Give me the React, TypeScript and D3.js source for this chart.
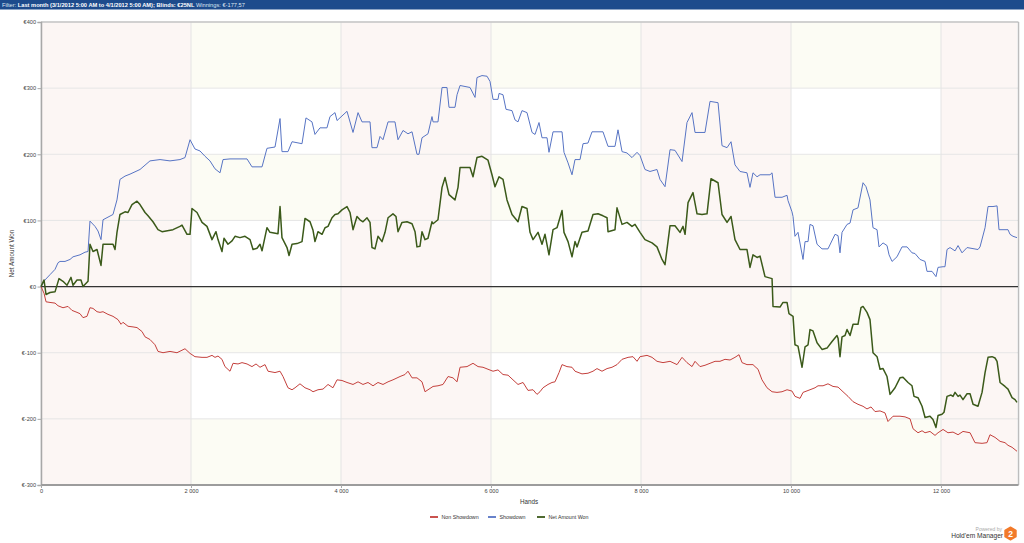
import React, { useRef, useEffect } from "react";
import * as d3 from "d3";

type Pt = [number, number];

// Cumulative winnings per hand (hands, euros)
const nonShowdown: Pt[] = [
  [0,0],[40,-10],[67,-23],[120,-24],[187,-25],[227,-29],[293,-32],[360,-30],[413,-36],[480,-39],[520,-41],[560,-47],[613,-45],[653,-32],[693,-33],[747,-38],[787,-39],[827,-38],[893,-42],[960,-45],[1027,-50],[1067,-57],[1093,-54],[1160,-60],[1227,-61],[1280,-62],[1347,-68],[1387,-76],[1453,-80],[1520,-88],[1560,-98],[1627,-100],[1720,-98],[1813,-100],[1920,-94],[1987,-101],[2053,-106],[2147,-107],[2213,-107],[2280,-104],[2320,-107],[2360,-105],[2413,-110],[2453,-121],[2520,-128],[2560,-116],[2627,-117],[2680,-115],[2747,-117],[2813,-121],[2867,-117],[2920,-122],[2987,-118],[3027,-128],[3120,-130],[3187,-128],[3227,-136],[3293,-153],[3347,-156],[3387,-153],[3453,-147],[3520,-153],[3587,-156],[3627,-159],[3693,-156],[3760,-155],[3827,-148],[3893,-153],[3947,-141],[4013,-142],[4080,-145],[4160,-148],[4227,-144],[4293,-148],[4360,-145],[4427,-150],[4493,-145],[4560,-148],[4627,-144],[4693,-141],[4787,-136],[4853,-133],[4893,-128],[4947,-138],[5013,-138],[5080,-144],[5120,-159],[5147,-157],[5227,-151],[5293,-150],[5360,-148],[5427,-136],[5493,-138],[5547,-144],[5587,-122],[5680,-121],[5760,-116],[5827,-121],[5893,-122],[5960,-125],[6027,-128],[6093,-126],[6160,-133],[6227,-134],[6293,-141],[6360,-148],[6427,-145],[6493,-157],[6560,-156],[6613,-163],[6653,-159],[6693,-153],[6760,-148],[6813,-145],[6853,-144],[6907,-130],[6947,-118],[7013,-121],[7080,-122],[7120,-128],[7213,-132],[7293,-131],[7360,-128],[7413,-124],[7480,-128],[7547,-124],[7613,-122],[7680,-118],[7747,-110],[7827,-107],[7893,-106],[7947,-113],[7987,-106],[8080,-104],[8147,-107],[8213,-113],[8293,-115],[8387,-113],[8480,-118],[8547,-107],[8613,-115],[8680,-121],[8720,-113],[8787,-121],[8853,-119],[8920,-116],[8987,-113],[9053,-113],[9120,-110],[9187,-111],[9253,-107],[9307,-103],[9347,-115],[9413,-118],[9493,-118],[9520,-121],[9560,-125],[9613,-141],[9680,-153],[9747,-159],[9813,-160],[9880,-159],[9947,-156],[10013,-158],[10053,-166],[10120,-169],[10160,-160],[10253,-156],[10320,-153],[10360,-150],[10427,-150],[10493,-147],[10560,-151],[10627,-152],[10693,-159],[10760,-166],[10827,-174],[10893,-178],[10960,-181],[11013,-185],[11067,-182],[11120,-189],[11187,-188],[11253,-191],[11293,-204],[11360,-196],[11453,-196],[11520,-197],[11587,-200],[11627,-215],[11693,-221],[11747,-218],[11787,-221],[11853,-219],[11920,-225],[11960,-221],[12027,-216],[12093,-221],[12160,-220],[12227,-224],[12293,-219],[12387,-221],[12453,-236],[12547,-237],[12613,-236],[12653,-224],[12720,-228],[12787,-234],[12853,-236],[12893,-240],[12947,-243],[13013,-249],
];

const showdown: Pt[] = [
  [0,0],[53,10],[120,18],[187,26],[227,36],[253,38],[320,38],[387,41],[427,45],[520,48],[587,52],[627,53],[653,99],[720,91],[760,84],[800,71],[827,101],[960,109],[1013,131],[1053,162],[1120,167],[1187,170],[1320,177],[1453,190],[1587,192],[1720,190],[1853,192],[1920,195],[1987,222],[2053,208],[2120,205],[2187,197],[2253,190],[2320,178],[2387,172],[2427,192],[2520,193],[2747,193],[2813,181],[2947,181],[3013,209],[3120,211],[3187,254],[3213,204],[3293,204],[3347,219],[3480,216],[3533,255],[3613,249],[3653,230],[3720,240],[3813,240],[3853,257],[3920,263],[3947,251],[4080,265],[4160,233],[4227,263],[4280,249],[4387,249],[4413,210],[4480,210],[4520,227],[4560,222],[4627,249],[4720,249],[4760,222],[4827,236],[4893,231],[4947,234],[5013,200],[5040,200],[5080,225],[5160,231],[5213,257],[5227,249],[5293,249],[5347,301],[5413,301],[5440,271],[5520,271],[5547,290],[5587,304],[5720,301],[5787,286],[5813,316],[5880,319],[5947,318],[5987,310],[6027,283],[6093,283],[6107,292],[6160,290],[6200,268],[6280,266],[6320,252],[6360,249],[6413,266],[6480,263],[6547,233],[6587,230],[6640,248],[6680,225],[6747,225],[6773,203],[6827,234],[6947,234],[6973,203],[7027,187],[7080,169],[7120,192],[7187,192],[7227,216],[7293,217],[7347,234],[7493,234],[7560,212],[7653,212],[7693,237],[7747,204],[7813,202],[7880,195],[7947,203],[7987,198],[8053,177],[8120,174],[8213,177],[8253,162],[8320,151],[8387,207],[8453,206],[8547,189],[8613,248],[8680,263],[8720,233],[8853,233],[8920,280],[9027,278],[9080,213],[9147,210],[9200,219],[9253,184],[9320,174],[9413,172],[9453,150],[9493,172],[9547,166],[9587,169],[9720,169],[9747,172],[9787,135],[9880,135],[9947,138],[9960,130],[10013,113],[10027,106],[10053,76],[10093,82],[10160,41],[10187,68],[10227,68],[10253,94],[10293,92],[10347,64],[10413,57],[10493,57],[10587,79],[10627,77],[10653,51],[10680,82],[10747,94],[10787,96],[10827,116],[10893,119],[10960,157],[11000,151],[11053,131],[11093,89],[11147,86],[11173,60],[11227,66],[11280,62],[11307,48],[11347,38],[11413,45],[11480,60],[11547,60],[11613,51],[11653,50],[11720,41],[11787,38],[11813,23],[11880,23],[11933,15],[11960,29],[12027,30],[12053,30],[12080,56],[12120,59],[12187,54],[12227,62],[12280,51],[12347,59],[12493,56],[12520,60],[12587,89],[12627,121],[12693,121],[12747,122],[12773,86],[12893,86],[12920,79],[12960,76],[13013,74],
];

const netWon: Pt[] = [
  [0,0],[40,10],[67,-12],[120,-9],[187,-8],[240,12],[293,8],[347,2],[400,14],[427,2],[480,10],[533,10],[560,0],[627,8],[653,64],[693,53],[747,56],[800,32],[827,64],[960,64],[987,56],[1013,82],[1053,109],[1120,113],[1160,112],[1213,124],[1280,129],[1320,124],[1387,112],[1427,107],[1493,98],[1560,86],[1613,83],[1760,86],[1853,91],[1880,93],[1947,79],[1987,79],[2013,118],[2080,112],[2147,97],[2213,91],[2280,71],[2333,83],[2360,71],[2413,53],[2440,73],[2493,64],[2547,69],[2587,76],[2653,74],[2720,76],[2787,71],[2827,56],[2880,58],[2920,64],[2947,54],[3013,89],[3053,82],[3160,80],[3187,121],[3213,74],[3280,59],[3307,47],[3347,64],[3413,65],[3480,68],[3520,103],[3587,98],[3627,85],[3653,68],[3693,83],[3747,79],[3787,89],[3827,91],[3880,104],[3920,109],[3960,110],[4013,116],[4080,121],[4120,112],[4160,86],[4213,106],[4253,101],[4293,98],[4347,104],[4387,97],[4413,59],[4453,57],[4493,76],[4547,68],[4587,82],[4627,104],[4693,110],[4733,106],[4760,83],[4813,97],[4880,98],[4947,95],[4987,83],[5013,60],[5053,61],[5080,83],[5120,71],[5160,73],[5213,98],[5227,95],[5293,101],[5347,150],[5387,165],[5440,139],[5520,131],[5560,150],[5587,180],[5720,180],[5760,166],[5813,195],[5880,197],[5960,191],[6013,169],[6053,151],[6107,166],[6160,162],[6213,131],[6280,109],[6360,98],[6413,121],[6480,118],[6520,82],[6560,71],[6627,82],[6680,64],[6720,79],[6773,48],[6827,86],[6880,89],[6947,115],[6973,82],[7027,68],[7080,45],[7120,68],[7147,60],[7213,82],[7293,84],[7360,109],[7427,110],[7493,107],[7547,104],[7560,83],[7653,86],[7680,119],[7747,94],[7813,97],[7880,91],[7920,94],[7987,82],[8053,71],[8147,66],[8213,60],[8280,41],[8320,33],[8387,92],[8453,92],[8520,82],[8560,91],[8587,79],[8627,127],[8693,142],[8747,110],[8813,109],[8880,110],[8933,163],[9027,157],[9080,109],[9147,97],[9200,106],[9253,71],[9320,56],[9413,56],[9453,29],[9493,48],[9547,44],[9587,46],[9653,15],[9747,12],[9760,-30],[9853,-31],[9893,-24],[9947,-24],[9973,-41],[10027,-45],[10053,-88],[10093,-90],[10147,-122],[10187,-91],[10227,-88],[10253,-65],[10293,-67],[10347,-85],[10413,-95],[10480,-93],[10547,-83],[10613,-74],[10627,-78],[10653,-106],[10680,-76],[10720,-74],[10747,-65],[10787,-74],[10827,-57],[10893,-57],[10933,-32],[10960,-30],[11013,-39],[11053,-50],[11093,-100],[11147,-106],[11187,-125],[11227,-124],[11280,-136],[11320,-163],[11387,-153],[11453,-138],[11493,-137],[11560,-145],[11613,-150],[11640,-166],[11693,-168],[11747,-181],[11787,-198],[11853,-196],[11893,-201],[11933,-213],[11960,-195],[12013,-193],[12040,-190],[12080,-166],[12133,-164],[12160,-166],[12187,-160],[12227,-166],[12253,-164],[12293,-171],[12347,-162],[12387,-162],[12427,-178],[12493,-181],[12547,-160],[12587,-130],[12627,-107],[12680,-106],[12720,-108],[12747,-113],[12787,-145],[12853,-151],[12893,-155],[12947,-168],[12987,-171],[13013,-175],
];

const yTicks = [-300, -200, -100, 0, 100, 200, 300, 400];
const xTicks = [0, 2000, 4000, 6000, 8000, 10000, 12000];
const seriesNames = ["Non Showdown", "Showdown", "Net Amount Won"];
const seriesColors = ["#c4403c", "#5774c4", "#3b5a1a"];
const seriesWidths = [1, 1, 1.5];

const FONT = "'Liberation Sans', Arial, sans-serif";

export default function App() {
  const svgRef = useRef<SVGSVGElement>(null);

  useEffect(() => {
    if (!svgRef.current) return;
    const svg = d3.select(svgRef.current);
    svg.selectAll("*").remove();

    const W = 1024;
    const plot = { left: 41, right: 1017, top: 22, bottom: 485 };
    const maxHands = d3.max(netWon, d => d[0]) as number;

    const x = d3.scaleLinear().domain([0, maxHands]).range([plot.left, plot.right]);
    const y = d3.scaleLinear().domain([-300, 400]).range([plot.bottom, plot.top]);

    svg.append("rect").attr("width", W).attr("height", 543).attr("fill", "#fff");

    // header bar
    svg.append("rect").attr("x", 0).attr("y", 0).attr("width", W).attr("height", 9.5).attr("fill", "#1d4b8c");
    const head = svg.append("text")
      .attr("x", 2).attr("y", 6.8)
      .attr("font-family", FONT).attr("font-size", 5.7).attr("fill", "#fff");
    head.append("tspan").attr("fill", "#dfe6f2").text("Filter: ");
    head.append("tspan").attr("font-weight", "bold").text("Last month (3/1/2012 5:00 AM to 4/1/2012 5:00 AM); Blinds: €25NL ");
    head.append("tspan").attr("fill", "#dfe6f2").text("Winnings: €-177,57");

    // horizontal bands (faint yellow on alternate rows)
    const bands = svg.append("g");
    d3.range(yTicks.length - 1).forEach(i => {
      if (i % 2 !== 0) return;
      bands.append("rect")
        .attr("x", plot.left).attr("width", x(maxHands) - plot.left)
        .attr("y", y(yTicks[i + 1])).attr("height", y(yTicks[i]) - y(yTicks[i + 1]))
        .attr("fill", "#fcfcf4");
    });
    // vertical bands (pink on alternate columns)
    xTicks.forEach((t, i) => {
      if (i % 2 !== 0) return;
      const end = i + 1 < xTicks.length ? xTicks[i + 1] : maxHands;
      bands.append("rect")
        .attr("x", x(t)).attr("width", x(end) - x(t))
        .attr("y", plot.top).attr("height", plot.bottom - plot.top)
        .attr("fill", "#fcf6f4");
    });

    // grid
    const grid = svg.append("g");
    yTicks.forEach(t => {
      grid.append("line")
        .attr("x1", plot.left).attr("x2", plot.right + 1)
        .attr("y1", y(t)).attr("y2", y(t))
        .attr("stroke", "#e6e6e6").attr("stroke-width", 1);
    });
    xTicks.forEach(t => {
      grid.append("line")
        .attr("x1", x(t)).attr("x2", x(t))
        .attr("y1", plot.top).attr("y2", plot.bottom)
        .attr("stroke", "#e4e4e4").attr("stroke-width", 1);
    });

    // frame
    svg.append("line").attr("x1", plot.left).attr("x2", plot.right + 1.5)
      .attr("y1", plot.top).attr("y2", plot.top).attr("stroke", "#c6c6c6").attr("stroke-width", 1.5);
    svg.append("line").attr("x1", plot.right + 1.5).attr("x2", plot.right + 1.5)
      .attr("y1", plot.top).attr("y2", plot.bottom).attr("stroke", "#bdbdbd").attr("stroke-width", 1.5);

    // axes
    const fmtX = (d: number) => d3.format(",")(d).replace(/,/g, " ");
    const yAxis = svg.append("g")
      .attr("transform", `translate(${plot.left},0)`)
      .call(d3.axisLeft(y).tickValues(yTicks).tickSize(3.5).tickPadding(1.5).tickFormat(d => `€${d}`));
    yAxis.select(".domain").attr("stroke", "#a8a8a8").attr("stroke-width", 1.5);
    yAxis.selectAll(".tick line").attr("stroke", "#a8a8a8");
    yAxis.selectAll("text").attr("font-family", FONT).attr("font-size", 5.6).attr("fill", "#444");

    const xAxis = svg.append("g")
      .attr("transform", `translate(0,${plot.bottom})`)
      .call(d3.axisBottom(x).tickValues(xTicks).tickSize(3).tickPadding(1.5).tickFormat(d => fmtX(d as number)));
    xAxis.select(".domain").attr("stroke", "#9c9c9c").attr("stroke-width", 2)
      .attr("d", `M${plot.left},0H${plot.right + 1.5}`);
    xAxis.selectAll(".tick line").attr("stroke", "#a8a8a8");
    xAxis.selectAll("text").attr("font-family", FONT).attr("font-size", 5.6).attr("fill", "#444");

    // zero line
    svg.append("line")
      .attr("x1", plot.left).attr("x2", plot.right + 1)
      .attr("y1", y(0)).attr("y2", y(0))
      .attr("stroke", "#333").attr("stroke-width", 1.3);

    // series
    const line = d3.line<Pt>().x(d => x(d[0])).y(d => y(d[1]));
    [nonShowdown, showdown, netWon].forEach((s, i) => {
      svg.append("path")
        .datum(s)
        .attr("fill", "none")
        .attr("stroke", seriesColors[i])
        .attr("stroke-width", seriesWidths[i])
        .attr("stroke-linejoin", "round")
        .attr("d", line);
    });

    // axis titles
    svg.append("text")
      .attr("x", (plot.left + plot.right) / 2).attr("y", 504)
      .attr("text-anchor", "middle")
      .attr("font-family", FONT).attr("font-size", 6.3).attr("fill", "#333")
      .text("Hands");
    svg.append("text")
      .attr("transform", `translate(14,${(plot.top + plot.bottom) / 2}) rotate(-90)`)
      .attr("text-anchor", "middle")
      .attr("font-family", FONT).attr("font-size", 6.3).attr("fill", "#333")
      .text("Net Amount Won");

    // legend
    const legendX = [430, 488, 537];
    seriesNames.forEach((name, i) => {
      const g = svg.append("g").attr("transform", `translate(${legendX[i]},517)`);
      g.append("line").attr("x1", 0).attr("x2", 8).attr("y1", 0).attr("y2", 0)
        .attr("stroke", seriesColors[i]).attr("stroke-width", 1.8);
      g.append("text").attr("x", 11.5).attr("y", 2)
        .attr("font-family", FONT).attr("font-size", 5.3).attr("fill", "#333")
        .text(name);
    });

    // powered by
    svg.append("text")
      .attr("x", 1002).attr("y", 530.5).attr("text-anchor", "end")
      .attr("font-family", FONT).attr("font-size", 5).attr("fill", "#aaa")
      .text("Powered by");
    svg.append("text")
      .attr("x", 1003).attr("y", 538).attr("text-anchor", "end")
      .attr("font-family", FONT).attr("font-size", 6.6).attr("fill", "#333")
      .text("Hold'em Manager");
    const hex = d3.range(6).map(k => {
      const a = Math.PI / 6 + (k * Math.PI) / 3;
      return [1010.5 + 6.3 * Math.cos(a), 533.5 + 6.3 * Math.sin(a)] as [number, number];
    });
    svg.append("path")
      .attr("d", d3.line().curve(d3.curveLinearClosed)(hex) as string)
      .attr("fill", "#f27a2a").attr("stroke", "#f27a2a").attr("stroke-width", 1.5).attr("stroke-linejoin", "round");
    svg.append("text")
      .attr("x", 1010.5).attr("y", 536.5).attr("text-anchor", "middle")
      .attr("font-family", FONT).attr("font-size", 8.5).attr("font-weight", "bold").attr("fill", "#fff")
      .text("2");
  }, []);

  return (
    <svg
      ref={svgRef}
      width={1024}
      height={543}
      style={{ position: "absolute", left: 0, top: 0, display: "block" }}
    />
  );
}
